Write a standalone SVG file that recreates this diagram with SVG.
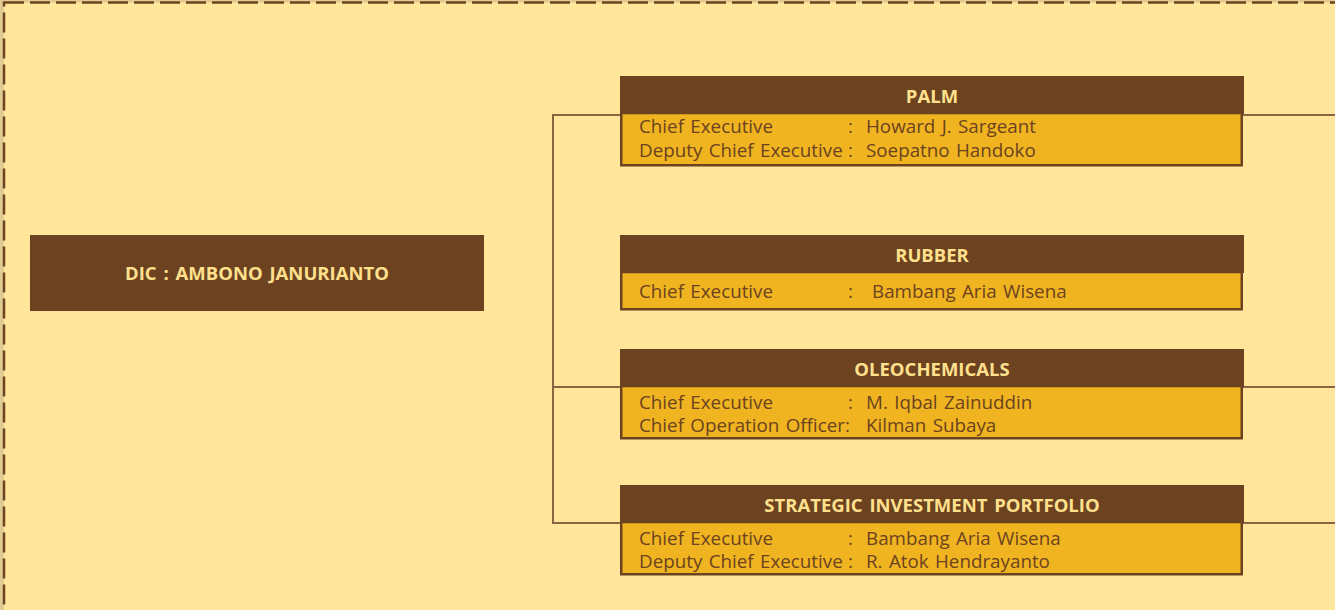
<svg xmlns="http://www.w3.org/2000/svg" width="1335" height="610" viewBox="0 0 1335 610">
<style>
.hd{fill:#6C4220}
.bd{fill:#EFB420;stroke:#6C4220;stroke-width:2.5}
.ht{font-family:"Open Sans","Noto Sans",sans-serif;font-weight:bold;font-size:18.5px;word-spacing:2px;fill:#FFE08C;text-anchor:middle}
.bt{font-family:"Open Sans","Noto Sans",sans-serif;font-size:18.8px;word-spacing:1.5px;fill:#6C4220}
.cn{fill:none;stroke:#8A6440;stroke-width:2}
</style>
<rect x="0" y="0" width="1335" height="610" fill="#E2CB92"/>
<rect x="4" y="2.5" width="1345" height="620" fill="#FFE69B" stroke="#6E4420" stroke-width="2.5" stroke-dasharray="20 6"/>
<g id="connectors">
<polyline class="cn" points="620,115 553,115 553,523 620,523"/>
<line class="cn" x1="553" y1="387" x2="620" y2="387"/>
<line class="cn" x1="1243" y1="115" x2="1335" y2="115"/>
<line class="cn" x1="1243" y1="387" x2="1335" y2="387"/>
<line class="cn" x1="1243" y1="523" x2="1335" y2="523"/>
</g>
<g id="dic">
<rect class="hd" x="30" y="235" width="454" height="76"/>
<text class="ht" x="257" y="280">DIC : AMBONO JANURIANTO</text>
</g>
<g id="palm">
<rect class="bd" x="621.25" y="113" width="620.5" height="52.25"/>
<rect class="hd" x="620" y="76" width="624" height="38"/>
<text class="ht" x="932" y="103">PALM</text>
<text class="bt" x="639" y="133">Chief Executive</text>
<text class="bt" x="848" y="133">:</text>
<text class="bt" x="866" y="133">Howard J. Sargeant</text>
<text class="bt" x="639" y="157">Deputy Chief Executive</text>
<text class="bt" x="848" y="157">:</text>
<text class="bt" x="866" y="157">Soepatno Handoko</text>
</g>
<g id="rubber">
<rect class="bd" x="621.25" y="272" width="620.5" height="37.25"/>
<rect class="hd" x="620" y="235" width="624" height="38"/>
<text class="ht" x="932" y="262">RUBBER</text>
<text class="bt" x="639" y="298">Chief Executive</text>
<text class="bt" x="848" y="298">:</text>
<text class="bt" x="872" y="298">Bambang Aria Wisena</text>
</g>
<g id="oleochemicals">
<rect class="bd" x="621.25" y="386" width="620.5" height="52.25"/>
<rect class="hd" x="620" y="349" width="624" height="38"/>
<text class="ht" x="932" y="376">OLEOCHEMICALS</text>
<text class="bt" x="639" y="409">Chief Executive</text>
<text class="bt" x="848" y="409">:</text>
<text class="bt" x="866" y="409">M. Iqbal Zainuddin</text>
<text class="bt" x="639" y="432">Chief Operation Officer:</text>
<text class="bt" x="866" y="432">Kilman Subaya</text>
</g>
<g id="strategic">
<rect class="bd" x="621.25" y="522" width="620.5" height="52.25"/>
<rect class="hd" x="620" y="485" width="624" height="38"/>
<text class="ht" x="932" y="512">STRATEGIC INVESTMENT PORTFOLIO</text>
<text class="bt" x="639" y="545">Chief Executive</text>
<text class="bt" x="848" y="545">:</text>
<text class="bt" x="866" y="545">Bambang Aria Wisena</text>
<text class="bt" x="639" y="568">Deputy Chief Executive</text>
<text class="bt" x="848" y="568">:</text>
<text class="bt" x="866" y="568">R. Atok Hendrayanto</text>
</g>
</svg>
